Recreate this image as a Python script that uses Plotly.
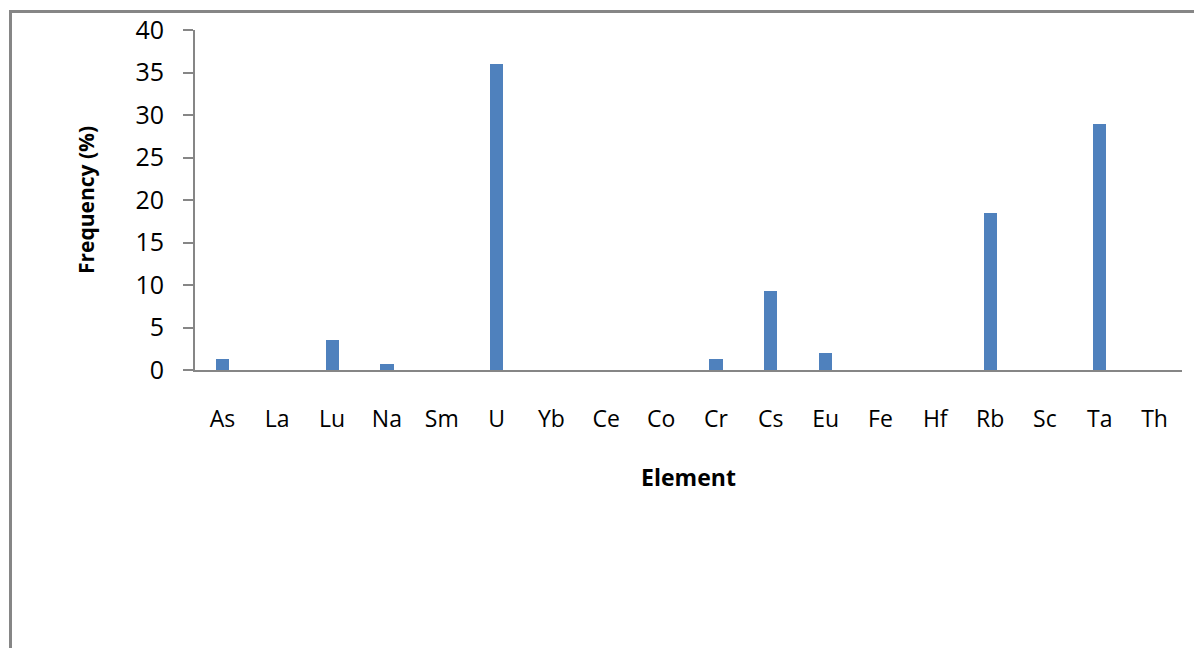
import plotly.graph_objects as go

# Element frequencies (%)
elements = ["As", "La", "Lu", "Na", "Sm", "U", "Yb", "Ce", "Co", "Cr",
            "Cs", "Eu", "Fe", "Hf", "Rb", "Sc", "Ta", "Th"]
frequency = [1.3, 0, 3.5, 0.7, 0, 36, 0, 0, 0, 1.3,
             9.3, 2.0, 0, 0, 18.5, 0, 29, 0]
y_ticks = [0, 5, 10, 15, 20, 25, 30, 35, 40]

W, H = 1194, 648
L, R, T, B = 195, 12, 30, 278
pw, ph = W - L - R, H - T - B

def px_x(p):
    return (p - L) / pw

def px_y(p):
    return (H - B - p) / ph

fig = go.Figure(go.Bar(
    x=elements,
    y=frequency,
    width=0.24,
    marker=dict(color="#4F81BD", line=dict(width=0)),
))

font_family = "Open Sans, DejaVu Sans, sans-serif"

fig.update_layout(
    width=W, height=H,
    margin=dict(l=L, r=R, t=T, b=B, autoexpand=False),
    paper_bgcolor="white",
    plot_bgcolor="white",
    showlegend=False,
    bargap=0,
    font=dict(family=font_family, color="#000000"),
    xaxis=dict(
        type="category",
        showline=True, linecolor="#868686", linewidth=2,
        ticks="", showgrid=False,
        tickfont=dict(size=23, family=font_family),
        ticklabelstandoff=27,
        title=dict(text="<b>Element</b>", font=dict(size=23, family=font_family),
                   standoff=37),
    ),
    yaxis=dict(
        range=[0, 40],
        tickvals=y_ticks,
        showline=True, linecolor="#868686", linewidth=2,
        ticks="outside", ticklen=10, tickcolor="#868686", tickwidth=2,
        showgrid=False, zeroline=False,
        tickfont=dict(size=25, family=font_family),
        ticklabelstandoff=14,
        title=dict(text="<b>Frequency (%)</b>", font=dict(size=21, family=font_family),
                   standoff=35),
    ),
    shapes=[
        dict(type="rect", xref="paper", yref="paper",
             x0=px_x(10.5), x1=px_x(1210), y0=px_y(11.5), y1=px_y(700),
             line=dict(color="#868686", width=3), fillcolor="rgba(0,0,0,0)",
             layer="below"),
    ],
)

fig.write_html("out.html")
